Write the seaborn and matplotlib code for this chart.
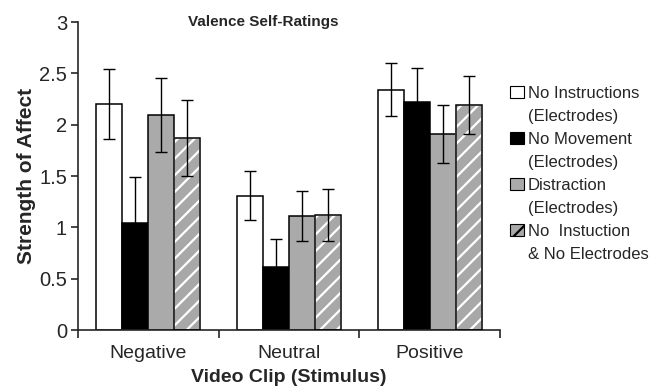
import pandas as pd
import matplotlib
matplotlib.use("Agg")
import matplotlib.pyplot as plt
import seaborn as sns
from matplotlib.patches import Rectangle, Patch

clips = ["Negative", "Neutral", "Positive"]
conditions = ["No Instructions\n(Electrodes)", "No Movement\n(Electrodes)",
              "Distraction\n(Electrodes)", "No  Instuction\n& No Electrodes"]
means = {
    "No Instructions\n(Electrodes)": [2.20, 1.31, 2.34],
    "No Movement\n(Electrodes)": [1.04, 0.61, 2.22],
    "Distraction\n(Electrodes)": [2.09, 1.11, 1.91],
    "No  Instuction\n& No Electrodes": [1.87, 1.12, 2.19],
}
errors = {
    "No Instructions\n(Electrodes)": [0.34, 0.24, 0.26],
    "No Movement\n(Electrodes)": [0.45, 0.28, 0.33],
    "Distraction\n(Electrodes)": [0.36, 0.24, 0.28],
    "No  Instuction\n& No Electrodes": [0.37, 0.25, 0.28],
}
colors = ["white", "black", "#aaaaaa", "#a8a8a8"]

rows = []
for c in conditions:
    for i, clip in enumerate(clips):
        rows.append({"clip": clip, "cond": c, "mean": means[c][i], "err": errors[c][i]})
df = pd.DataFrame(rows)

sns.set_style("ticks")
plt.rcParams['font.family'] = ['Liberation Sans', 'DejaVu Sans']
plt.rcParams['hatch.linewidth'] = 1.6

fig = plt.figure(figsize=(6.51, 3.86), dpi=100)
ax = fig.add_axes([0.12, 0.145, 0.648, 0.798])

sns.barplot(data=df, x="clip", y="mean", hue="cond", hue_order=conditions,
            palette=colors, errorbar=None, width=0.74, edgecolor="black",
            linewidth=1.1, legend=False, ax=ax)

# bars come grouped by hue, in category order
for k, c in enumerate(conditions):
    for i in range(len(clips)):
        p = ax.patches[k * len(clips) + i]
        x = p.get_x() + p.get_width() / 2
        if k == 3:
            p.set_edgecolor("white")
            p.set_hatch("//")
            ax.add_patch(Rectangle((p.get_x(), 0), p.get_width(), p.get_height(),
                                   fill=False, edgecolor="black", linewidth=1.1, zorder=3))
        ax.errorbar(x, means[c][i], yerr=errors[c][i], fmt="none", ecolor="black",
                    elinewidth=1.0, capsize=4, capthick=1.0, zorder=4)

ax.set_ylim(0, 3)
ax.set_xlim(-0.5, 2.5)
ax.set_yticks([0, 0.5, 1, 1.5, 2, 2.5, 3])
ax.set_yticklabels(["0", "0.5", "1", "1.5", "2", "2.5", "3"])
ax.set_xticks([-0.5, 0.5, 1.5, 2.5])
ax.set_xticklabels([])
ax.set_xticks([0, 1, 2], minor=True)
ax.set_xticklabels(clips, minor=True)
ax.tick_params(axis="x", which="minor", length=0, labelsize=14, pad=11)
ax.tick_params(axis="x", which="major", length=6, width=1.2, direction="out")
ax.tick_params(axis="y", length=5, width=1.2, labelsize=14.5, pad=3)
for s in ["left", "bottom"]:
    ax.spines[s].set_linewidth(1.2)
sns.despine(ax=ax)

ax.set_xlabel("Video Clip (Stimulus)", fontsize=14, fontweight="bold", labelpad=5)
ax.set_ylabel("Strength of Affect", fontsize=15, fontweight="bold", labelpad=2)
ax.text(0.438, 1.0, "Valence Self-Ratings", transform=ax.transAxes, ha="center",
        va="center", fontsize=11, fontweight="bold")

handles, labels = [], []
for c, col in zip(conditions, colors):
    h = Patch(facecolor=col, edgecolor="black", linewidth=0.8)
    if c.startswith("No  "):
        h = Patch(facecolor=col, edgecolor="black", linewidth=0.8, hatch="//")
    first, second = c.split("\n")
    handles += [h, Patch(facecolor="none", edgecolor="none")]
    labels += [first, second]
fig.legend(handles, labels, loc="upper left", bbox_to_anchor=(0.771, 0.8),
           frameon=False, fontsize=12, handlelength=0.8, handleheight=0.8,
           handletextpad=0.25, labelspacing=0.47, borderpad=0)

fig.savefig("out.png", dpi=100)
